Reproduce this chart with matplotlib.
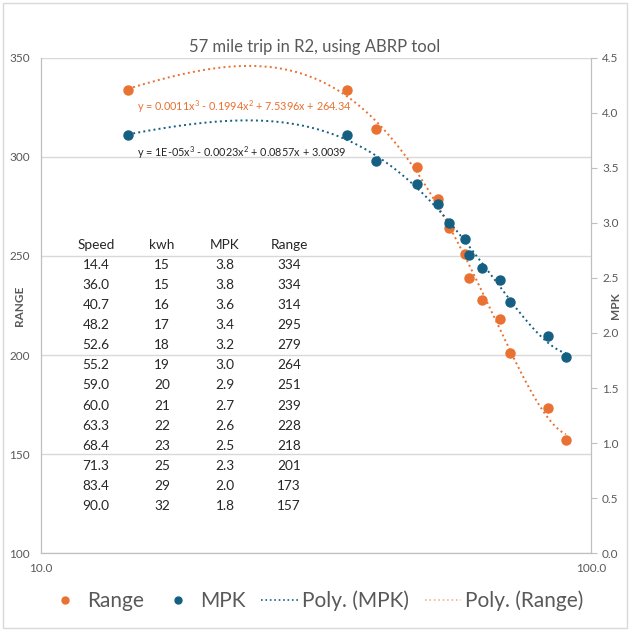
import numpy as np
import matplotlib.pyplot as plt
from matplotlib.lines import Line2D
from matplotlib.patches import Rectangle

# данные таблицы
speed = [14.4, 36.0, 40.7, 48.2, 52.6, 55.2, 59.0, 60.0, 63.3, 68.4, 71.3, 83.4, 90.0]
kwh = [15, 15, 16, 17, 18, 19, 20, 21, 22, 23, 25, 29, 32]
mpk = [3.80, 3.80, 3.56, 3.35, 3.17, 3.00, 2.85, 2.71, 2.59, 2.48, 2.28, 1.97, 1.78]
rng = [334, 334, 314, 295, 279, 264, 251, 239, 228, 218, 201, 173, 157]

eq_range = "y = 0.0011x$^3$ - 0.1994x$^2$ + 7.5396x + 264.34"
eq_mpk = "y = 1E-05x$^3$ - 0.0023x$^2$ + 0.0857x + 3.0039"

orange = '#E97132'
blue = '#156082'
gray = '#595959'

plt.rcParams['font.family'] = ['Lato', 'DejaVu Sans']
plt.rcParams['mathtext.fontset'] = 'custom'
plt.rcParams['mathtext.rm'] = 'Lato'

fig = plt.figure(figsize=(6.3, 6.31), dpi=100)
fig.patches.append(Rectangle((0.004, 0.004), 0.992, 0.992, transform=fig.transFigure,
                             fill=False, edgecolor='#d9d9d9', linewidth=1))

ax = fig.add_axes([0.0651, 0.1236, 0.873, 0.7845])
ax2 = ax.twinx()

# полиномиальные тренды 3-й степени
xs = np.linspace(min(speed), max(speed), 300)
p_rng = np.polyfit(speed, rng, 3)
p_mpk = np.polyfit(speed, mpk, 3)

ax.plot(xs, np.polyval(p_rng, xs), ':', color=orange, lw=1.4, zorder=2)
ax.plot(speed, rng, 'o', color=orange, ms=6.5, zorder=3)
ax2.plot(xs, np.polyval(p_mpk, xs), ':', color=blue, lw=1.4, zorder=2)
ax2.plot(speed, mpk, 'o', color=blue, ms=6.5, zorder=3)

ax.set_xscale('log')
ax.set_xlim(10, 100)
ax.set_ylim(100, 350)
ax2.set_ylim(0, 4.5)
ax.set_xticks([10, 100])
ax.set_xticks([], minor=True)
ax.set_xticklabels(['10.0', '100.0'])
ax.set_yticks([100, 150, 200, 250, 300, 350])
ax2.set_yticks(np.arange(0, 4.51, 0.5))
ax2.set_yticklabels([f'{v:.1f}' for v in np.arange(0, 4.51, 0.5)])

ax.grid(axis='y', color='#d9d9d9', lw=1)
for a in (ax, ax2):
    a.spines['top'].set_visible(False)
    for s in ('left', 'right', 'bottom'):
        a.spines[s].set_color('#bfbfbf')
ax.tick_params(axis='y', length=0, labelsize=8.5, colors=gray, pad=8)
ax.tick_params(axis='x', length=0, labelsize=8.5, colors=gray, pad=7)
ax2.tick_params(axis='y', length=4, labelsize=8.5, colors='#bfbfbf', labelcolor=gray, pad=4)

ax.set_ylabel('RANGE', fontsize=8.5, fontweight='bold', color=gray)
ax.yaxis.set_label_coords(-0.03, 0.5)
ax2.set_ylabel('MPK', fontsize=8.5, fontweight='bold', color=gray)
ax2.yaxis.set_label_coords(1.034, 0.5)

fig.text(0.5, 1 - 47 / 631, '57 mile trip in R2, using ABRP tool', ha='center', va='center',
         fontsize=12, color=gray)

fig.text(137 / 630, 1 - 107 / 631, eq_range, fontsize=7.8, color=orange, va='center')
fig.text(137 / 630, 1 - 153 / 631, eq_mpk, fontsize=7.8, color='#262626', va='center')

# таблица значений
cols_x = [96, 162, 225, 289]
headers = ['Speed', 'kwh', 'MPK', 'Range']
for cx, h in zip(cols_x, headers):
    fig.text(cx / 630, 1 - 245 / 631, h, ha='center', va='center', fontsize=9.8, color='#262626')
for i in range(len(speed)):
    y = 1 - (265 + i * 20.08) / 631
    vals = [f'{speed[i]:.1f}', f'{kwh[i]}', f'{mpk[i]:.1f}', f'{rng[i]}']
    for cx, v in zip(cols_x, vals):
        fig.text(cx / 630, y, v, ha='center', va='center', fontsize=9.8, color='#262626')

handles = [
    Line2D([], [], marker='o', ls='none', color=orange, ms=5),
    Line2D([], [], marker='o', ls='none', color=blue, ms=5),
    Line2D([], [], ls=':', color=blue, lw=1.2),
    Line2D([], [], ls=':', color='#f0b48f', lw=1.2),
]
fig.legend(handles, ['Range', 'MPK', 'Poly. (MPK)', 'Poly. (Range)'], loc='center',
           bbox_to_anchor=(0.5, 1 - 601 / 631), ncol=4, frameon=False, fontsize=15,
           labelcolor=gray, handlelength=1.75, handletextpad=0.2, columnspacing=0.75)

fig.savefig('out.png', dpi=100)
